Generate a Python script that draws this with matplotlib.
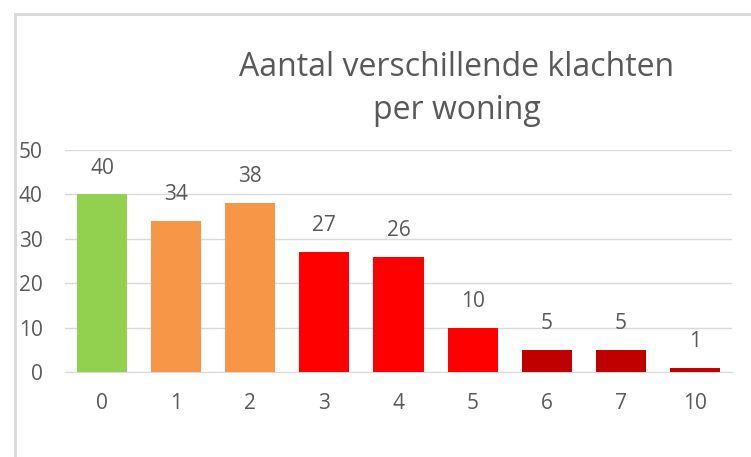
import matplotlib.pyplot as plt
from matplotlib.lines import Line2D

categories = ['0', '1', '2', '3', '4', '5', '6', '7', '10']
values = [40, 34, 38, 27, 26, 10, 5, 5, 1]
colors = ['#92D050', '#F79646', '#F79646', '#FF0000', '#FF0000', '#FF0000',
          '#C00000', '#C00000', '#C00000']

plt.rcParams['font.family'] = ['Open Sans', 'DejaVu Sans']
text_col = '#595959'

fig = plt.figure(figsize=(7.51, 4.57), dpi=100)
ax = fig.add_axes([65 / 751, 1 - 372 / 457, 667 / 751, 222 / 457])

x = range(len(categories))
ax.bar(x, values, width=0.675, color=colors, zorder=3)
for i, v in zip(x, values):
    ax.annotate(str(v), (i, v), xytext=(0, 19), textcoords='offset points',
                ha='center', va='center', fontsize=15, color=text_col)

ax.set_xlim(-0.5, len(categories) - 0.5)
ax.set_ylim(0, 50)
ax.set_yticks(range(0, 51, 10))
ax.set_xticks(list(x))
ax.set_xticklabels(categories)
ax.grid(axis='y', color='#D9D9D9', linewidth=1, zorder=0)
for s in ['top', 'right', 'left']:
    ax.spines[s].set_visible(False)
ax.spines['bottom'].set_color('#D9D9D9')
ax.tick_params(axis='both', length=0, labelsize=15, colors=text_col)
ax.tick_params(axis='x', pad=15)
ax.tick_params(axis='y', pad=16)

fig.text(457 / 751, 1 - 89 / 457, 'Aantal verschillende klachten\nper woning',
         ha='center', va='center', fontsize=23, color=text_col, linespacing=1.38)

# outer border of the chart area
fig.add_artist(Line2D([15 / 751, 15 / 751], [0, 1 - 14 / 457], transform=fig.transFigure,
                      color='#D9D9D9', linewidth=2))
fig.add_artist(Line2D([15 / 751, 1], [1 - 14 / 457, 1 - 14 / 457], transform=fig.transFigure,
                      color='#D9D9D9', linewidth=2))

fig.savefig('out.png', dpi=100)
plt.close(fig)
